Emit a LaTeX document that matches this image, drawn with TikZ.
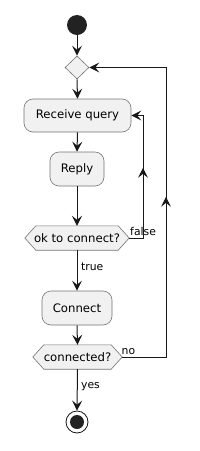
\documentclass[tikz,border=0pt]{standalone}
\usepackage{fontspec}
\setmainfont{DejaVu Sans}
\usetikzlibrary{arrows.meta,shapes.geometric,decorations.markings,backgrounds}
\definecolor{ln}{HTML}{181818}
\definecolor{bx}{HTML}{F1F1F1}
\definecolor{dot}{HTML}{222222}
\tikzset{
  act/.style={draw=black!55, line width=0.6pt, fill=bx, rounded corners=9pt, font=\fontsize{11.7}{13}\selectfont, inner sep=0pt},
  hexbox/.style={inner sep=0pt, font=\fontsize{11.7}{13}\selectfont},
  hexline/.style={draw=black!55, line width=0.6pt, fill=bx},
  lbl/.style={inner sep=0pt, anchor=west, font=\fontsize{10.8}{12}\selectfont},
  tip/.style={-{Stealth[length=10pt,width=10pt,inset=4pt]}},
  flow/.style={draw=ln, line width=1pt, tip},
  midarrow/.style={postaction={decorate, decoration={markings, mark=at position #1 with {\arrow{Stealth[length=10pt,width=10pt,inset=4pt]}}}}},
}
\begin{document}
\begin{tikzpicture}[x=1pt,y=-1pt]
\useasboundingbox (0,0) rectangle (200,451);
% start
\node[circle, fill=dot, minimum size=20pt, inner sep=0pt] (start) at (77,25) {};
% merge diamond
\node[diamond, draw=black!55, line width=0.6pt, fill=bx, minimum width=24pt, minimum height=23pt, inner sep=0pt] (merge) at (77,67.5) {};
% activities
\node[act, minimum width=107pt, minimum height=33pt] (rq) at (77.5,115.5) {Receive query};
\node[act, minimum width=54pt, minimum height=34pt] (reply) at (77,169) {Reply};
\node[hexbox, minimum width=104pt, minimum height=24pt] (ok) at (77,238) {ok to connect?};
\node[act, minimum width=70pt, minimum height=34pt] (conn) at (77,308) {Connect};
\node[hexbox, minimum width=89pt, minimum height=24pt] (cd) at (77.5,357) {connected?};
% end
\node[circle, draw=ln, line width=0.8pt, fill=white, minimum size=22pt, inner sep=0pt,
  path picture={\fill[dot] (path picture bounding box.center) circle (7pt);}] (stop) at (77,422) {};
% hexagon outlines
\begin{pgfonlayer}{background}
\path[hexline] ([xshift=11pt]ok.north west) -- ([xshift=-11pt]ok.north east) -- (ok.east) -- ([xshift=-11pt]ok.south east) -- ([xshift=11pt]ok.south west) -- (ok.west) -- cycle;
\path[hexline] ([xshift=11pt]cd.north west) -- ([xshift=-11pt]cd.north east) -- (cd.east) -- ([xshift=-11pt]cd.south east) -- ([xshift=11pt]cd.south west) -- (cd.west) -- cycle;
\end{pgfonlayer}
% loop columns
\coordinate (fx) at (143,0);
\coordinate (nx) at (166,0);
% flows
\draw[flow] (start) -- (merge.north);
\draw[flow] (merge.south) -- (rq.north);
\draw[flow] (rq.south) -- (reply.north);
\draw[flow] (reply.south) -- (ok.north);
\draw[flow] (ok.south) -- (conn.north);
\draw[flow] (conn.south) -- (cd.north);
\draw[flow] (cd.south) -- (stop.north);
\draw[flow, midarrow=84pt] (ok.east) -- (ok.east -| fx) -- (rq.east -| fx) -- (rq.east);
\draw[flow, midarrow=204pt] (cd.east) -- (cd.east -| nx) -- (merge.east -| nx) -- (merge.east);
% labels
\node[lbl] (lfalse) at (130,231) {false};
\node[lbl] (ltrue) at (81,267) {true};
\node[lbl] (lno) at (121.5,352) {no};
\node[lbl] (lyes) at (81,387) {yes};
\end{tikzpicture}
\end{document}
